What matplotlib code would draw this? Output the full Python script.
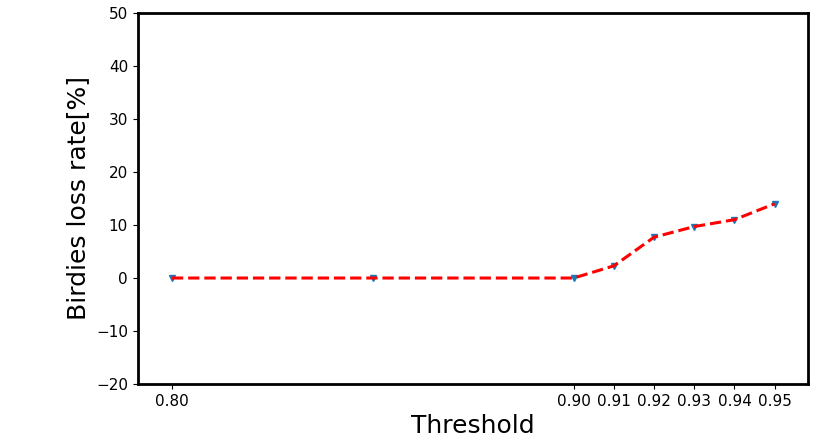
import matplotlib
matplotlib.use('Agg')
import matplotlib.pyplot as plt

# data
thresholds = [0.80, 0.85, 0.90, 0.91, 0.92, 0.93, 0.94, 0.95]
loss_rate = [0.0, 0.0, 0.0, 2.3, 7.7, 9.7, 11.0, 14.0]
tick_pos = [0.80, 0.90, 0.91, 0.92, 0.93, 0.94, 0.95]
tick_labels = ['0.80', '0.90', '0.91', '0.92', '0.93', '0.94', '0.95']

fig = plt.figure(figsize=(8.3, 4.41), dpi=100)
ax = fig.add_axes([0.166, 0.129, 0.807, 0.842])

ax.plot(thresholds, loss_rate, 'v', color='tab:blue', markersize=5)
ax.plot(thresholds, loss_rate, '--', color='red', linewidth=2.2)

ax.set_ylim(-20, 50)
ax.set_xlim(0.7915, 0.9582)
ax.set_xticks(tick_pos)
ax.set_xticklabels(tick_labels)
ax.tick_params(labelsize=11)
ax.set_xlabel('Threshold', fontsize=18)
ax.set_ylabel('Birdies loss rate[%]', fontsize=18)
for s in ax.spines.values():
    s.set_linewidth(2)

plt.savefig('out.png', dpi=100)
